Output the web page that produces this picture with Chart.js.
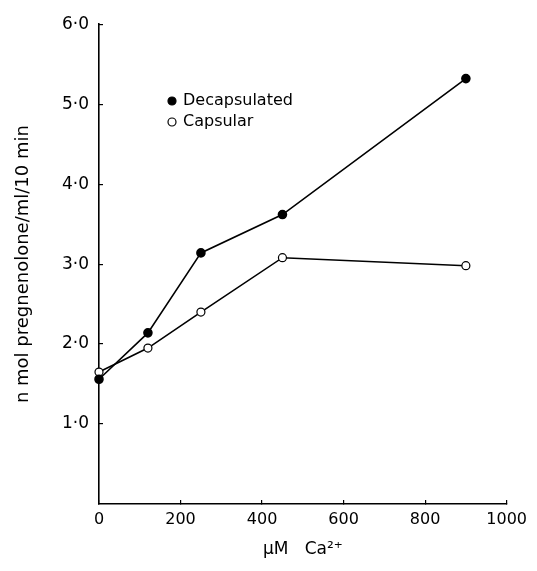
<!DOCTYPE html>
<html>
<head>
<meta charset="utf-8">
<script src="https://cdn.jsdelivr.net/npm/chart.js@4/dist/chart.umd.min.js"></script>
<style>
  html, body { margin: 0; padding: 0; background: #fff; }
  #wrap { width: 537px; height: 571px; }
</style>
</head>
<body>
<div id="wrap"><canvas id="myChart" width="537" height="571"></canvas></div>
<script>
// values
var calcium = [0, 120, 250, 450, 900];
var decapsulated = [1.56, 2.14, 3.14, 3.62, 5.32];
var capsular = [1.65, 1.95, 2.40, 3.08, 2.98];
var xTicks = [0, 200, 400, 600, 800, 1000];
var yTicks = [1, 2, 3, 4, 5, 6];

function pts(xs, ys) {
  var out = [];
  for (var i = 0; i < xs.length; i++) out.push({x: xs[i], y: ys[i]});
  return out;
}

var font = 'DejaVu Sans';

// legend drawn inside the plot, like the original
var innerLegend = {
  id: 'innerLegend',
  afterDraw: function(chart) {
    var ctx = chart.ctx;
    var rows = chart.data.datasets;
    var x = 172, y = 101;
    ctx.save();
    ctx.font = '16px "' + font + '"';
    ctx.textBaseline = 'middle';
    for (var i = 0; i < rows.length; i++) {
      var ds = rows[i];
      ctx.beginPath();
      ctx.arc(x, y + i * 21, 4, 0, Math.PI * 2);
      ctx.fillStyle = ds.pointBackgroundColor;
      ctx.fill();
      ctx.lineWidth = 1.2;
      ctx.strokeStyle = '#000';
      ctx.stroke();
      ctx.fillStyle = '#000';
      ctx.fillText(ds.label, x + 11, y + i * 21);
    }
    ctx.restore();
  }
};

var ctx = document.getElementById('myChart').getContext('2d');
var chart = new Chart(ctx, {
  type: 'line',
  data: {
    datasets: [{
      label: 'Decapsulated',
      data: pts(calcium, decapsulated),
      borderColor: '#000',
      borderWidth: 1.6,
      pointBackgroundColor: '#000',
      pointBorderColor: '#000',
      pointRadius: 4,
      tension: 0,
      clip: false
    }, {
      label: 'Capsular',
      data: pts(calcium, capsular),
      borderColor: '#000',
      borderWidth: 1.6,
      pointBackgroundColor: '#fff',
      pointBorderColor: '#000',
      pointBorderWidth: 1.2,
      pointRadius: 4,
      tension: 0,
      clip: false
    }]
  },
  options: {
    responsive: false,
    animation: false,
    layout: { padding: { top: 24, right: 27, left: 0, bottom: 0 } },
    plugins: { legend: { display: false }, tooltip: { enabled: false } },
    scales: {
      x: {
        type: 'linear',
        min: 0, max: 1000,
        afterFit: function(s) { s.height = 67; },
        afterBuildTicks: function(s) { s.ticks = xTicks.map(function(v) { return {value: v}; }); },
        ticks: {
          color: '#000',
          font: { family: font, size: 16 },
          padding: 10,
          maxRotation: 0,
          callback: function(v) { return String(v); }
        },
        grid: { drawOnChartArea: false, tickLength: -4, color: '#000', lineWidth: 1.2 },
        border: { color: '#000', width: 1.6 },
        title: {
          display: true,
          text: '\u03bcM   Ca\u00b2\u207a',
          color: '#000',
          font: { family: font, size: 17 },
          padding: { top: 0, bottom: 11 }
        }
      },
      y: {
        min: 0, max: 6,
        afterFit: function(s) { s.width = 99; },
        afterBuildTicks: function(s) { s.ticks = yTicks.map(function(v) { return {value: v}; }); },
        ticks: {
          color: '#000',
          font: { family: font, size: 17 },
          padding: 14,
          callback: function(v) { return v.toFixed(1).replace('.', '\u00b7'); }
        },
        grid: { drawOnChartArea: false, tickLength: -4, color: '#000', lineWidth: 1.2 },
        border: { color: '#000', width: 1.6 },
        title: {
          display: true,
          text: 'n mol pregnenolone/ml/10 min',
          color: '#000',
          font: { family: font, size: 18 },
          padding: { top: 13, bottom: 0 }
        }
      }
    }
  },
  plugins: [innerLegend]
});
</script>
</body>
</html>
